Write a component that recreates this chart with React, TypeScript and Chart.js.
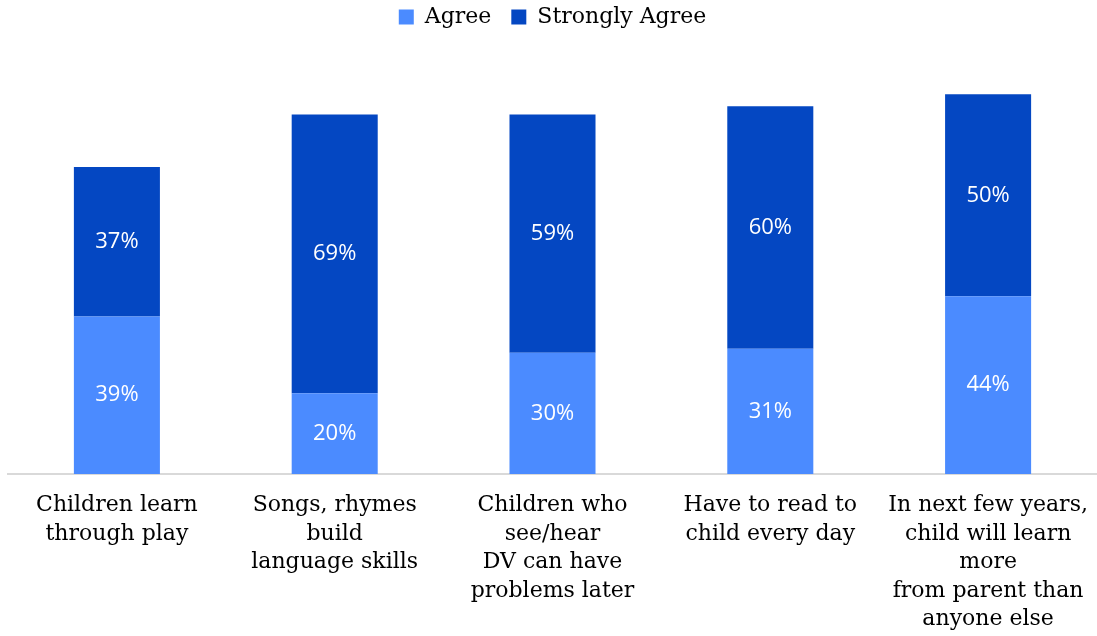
import React, { useEffect, useRef } from "react";
import { Chart, registerables } from "chart.js";

Chart.register(...registerables);

const categories: string[][] = [
  ["Children learn", "through play"],
  ["Songs, rhymes", "build", "language skills"],
  ["Children who", "see/hear", "DV can have", "problems later"],
  ["Have to read to", "child every day"],
  ["In next few years,", "child will learn", "more", "from parent than", "anyone else"],
];
const agree: number[] = [39, 20, 30, 31, 44];
const stronglyAgree: number[] = [37, 69, 59, 60, 50];

const AGREE_COLOR = "#4B8BFF";
const STRONG_COLOR = "#0447C2";
const SERIF = "'DejaVu Serif', serif";
const SANS = "'Open Sans', sans-serif";

const barLabels = {
  id: "barLabels",
  afterDatasetsDraw(chart: any) {
    const { ctx } = chart;
    ctx.save();
    ctx.fillStyle = "#ffffff";
    ctx.font = `22px ${SANS}`;
    ctx.textAlign = "center";
    ctx.textBaseline = "middle";
    chart.data.datasets.forEach((ds: any, di: number) => {
      const meta = chart.getDatasetMeta(di);
      meta.data.forEach((bar: any, i: number) => {
        const v = ds.data[i];
        const y = (bar.y + bar.base) / 2;
        ctx.fillText(`${v}%`, bar.x, y);
      });
    });
    ctx.restore();
  },
};

const legendSpace = {
  id: "legendSpace",
  beforeInit(chart: any) {
    const legend = chart.legend;
    if (!legend) return;
    const origFit = legend.fit;
    legend.fit = function () {
      origFit.call(this);
      this.height += 32;
    };
  },
};

export default function App() {
  const ref = useRef<HTMLCanvasElement>(null);
  useEffect(() => {
    document.body.style.margin = "0";
    const chart = new Chart(ref.current!, {
      type: "bar",
      data: {
        labels: categories,
        datasets: [
          { label: "Agree", data: agree, backgroundColor: AGREE_COLOR },
          { label: "Strongly Agree", data: stronglyAgree, backgroundColor: STRONG_COLOR },
        ],
      },
      options: {
        animation: false,
        responsive: false,
        maintainAspectRatio: false,
        layout: { padding: { left: 8, right: 0, top: -14, bottom: 0 } },
        datasets: { bar: { categoryPercentage: 1, barPercentage: 0.395 } } as any,
        plugins: {
          legend: {
            position: "top",
            labels: {
              boxWidth: 15,
              boxHeight: 15,
              color: "#000",
              font: { family: SERIF, size: 22 },
              padding: 20,
            },
          },
          tooltip: { enabled: false },
        },
        scales: {
          x: {
            stacked: true,
            grid: { display: false, drawTicks: false },
            border: { display: true, color: "#d9d9d9", width: 2 },
            ticks: {
              color: "#000",
              font: { family: SERIF, size: 22, lineHeight: 1.3 },
              padding: 17,
              maxRotation: 0,
              autoSkip: false,
            },
            afterFit(scale: any) {
              scale.paddingLeft = 0;
              scale.paddingRight = 0;
              scale.height = 162;
            },
          },
          y: {
            stacked: true,
            display: false,
            min: 0,
            max: 100,
          },
        },
      },
      plugins: [barLabels, legendSpace],
    });
    return () => chart.destroy();
  }, []);
  return <canvas ref={ref} width={1097} height={636} style={{ display: "block" }} />;
}
